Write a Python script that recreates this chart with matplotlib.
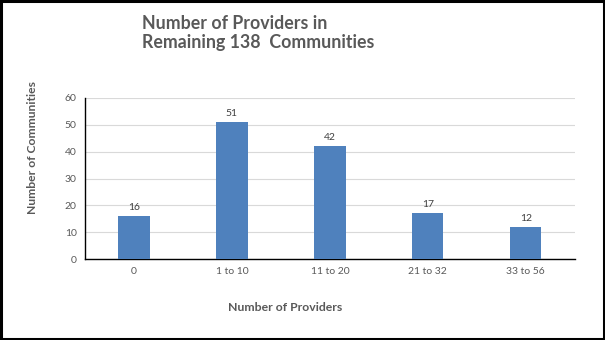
import matplotlib
matplotlib.use("Agg")
import matplotlib.pyplot as plt
from matplotlib.patches import Rectangle

categories = ["0", "1 to 10", "11 to 20", "21 to 32", "33 to 56"]
counts = [16, 51, 42, 17, 12]
y_ticks = [0, 10, 20, 30, 40, 50, 60]

plt.rcParams["font.family"] = ["Lato", "DejaVu Sans"]
text_gray = "#595959"
bar_blue = "#4f81bd"

fig = plt.figure(figsize=(6.05, 3.4), dpi=100)
ax = fig.add_axes([0.1405, 0.238, 0.8095, 0.474])

x = range(len(categories))
bars = ax.bar(x, counts, width=0.32, color=bar_blue, zorder=3)
for xi, v in zip(x, counts):
    ax.text(xi, v + 1.5, str(v), ha="center", va="bottom", fontsize=7.5, color="#404040")

ax.set_xlim(-0.5, len(categories) - 0.5)
ax.set_ylim(0, 60)
ax.set_yticks(y_ticks)
ax.set_xticks(list(x))
ax.set_xticklabels(categories)
ax.tick_params(axis="both", length=0, labelsize=7.5, labelcolor=text_gray, pad=6)
ax.grid(axis="y", color="#d9d9d9", linewidth=0.8, zorder=0)
for side in ["top", "right"]:
    ax.spines[side].set_visible(False)
for side in ["left", "bottom"]:
    ax.spines[side].set_color("black")
    ax.spines[side].set_linewidth(1.0)

fig.text(0.235, 0.903, "Number of Providers in\nRemaining 138  Communities", ha="left", va="center",
         fontsize=12.8, fontweight="bold", color=text_gray, linespacing=1.1)
fig.text(0.053, 0.565, "Number of Communities", rotation=90, ha="center", va="center",
         fontsize=8.7, fontweight="bold", color=text_gray)
fig.text(0.471, 0.097, "Number of Providers", ha="center", va="center",
         fontsize=8.8, fontweight="bold", color=text_gray)

fig.patches.append(Rectangle((0.002, 0.003), 0.996, 0.994, transform=fig.transFigure,
                             fill=False, edgecolor="black", linewidth=2.2))

fig.savefig("out.png", dpi=100)
